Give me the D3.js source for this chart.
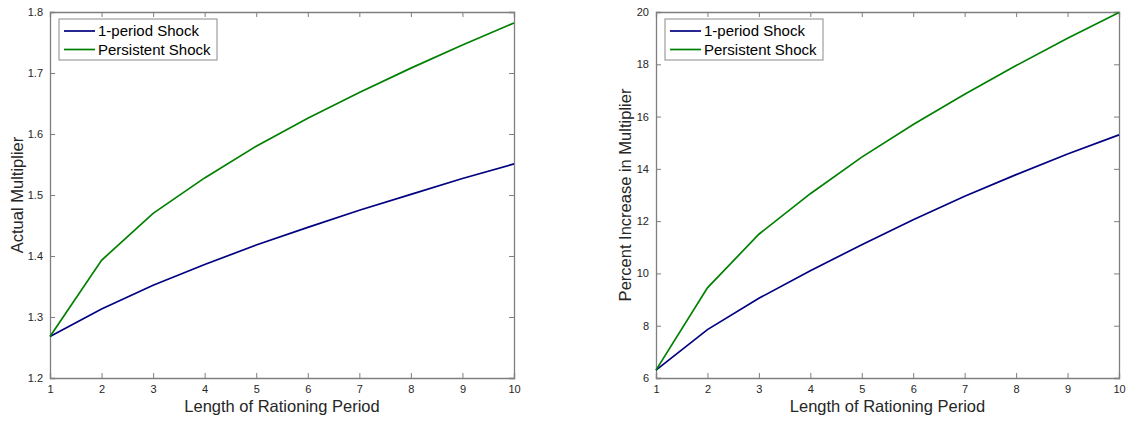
<!DOCTYPE html>
<html><head><meta charset="utf-8">
<script src="https://cdn.jsdelivr.net/npm/d3@7"></script>
<style>body{margin:0;background:#fff;} svg{display:block;font-family:Helvetica,"Liberation Sans",Arial,sans-serif;}</style>
</head><body>
<svg id="c" width="1127" height="421"></svg>
<script>
const periods = [1,2,3,4,5,6,7,8,9,10];
const seriesNames = ["1-period Shock","Persistent Shock"];
const colors = ["#000080","#008000"];
const leftOnePeriod = [1.268,1.313,1.352,1.386,1.418,1.447,1.475,1.501,1.527,1.551];
const leftPersistent = [1.268,1.393,1.470,1.528,1.580,1.626,1.668,1.708,1.746,1.782];
const rightOnePeriod = [6.3,7.85,9.05,10.1,11.1,12.05,12.95,13.78,14.57,15.3];
const rightPersistent = [6.3,9.45,11.5,13.05,14.45,15.7,16.85,17.95,19.0,19.98];
const leftYTicks = [1.2,1.3,1.4,1.5,1.6,1.7,1.8];
const rightYTicks = [6,8,10,12,14,16,18,20];
const xTicks = [1,2,3,4,5,6,7,8,9,10];

const svg = d3.select("#c");
const axisColor = "#7f7f7f", textColor = "#262626";

function panel(x0, x1, y0, y1, yDomain, yTicks, yFmt, series, ylabel, ylabelX) {
  const x = d3.scaleLinear().domain([1,10]).range([x0,x1]);
  const y = d3.scaleLinear().domain(yDomain).range([y1,y0]);
  const g = svg.append("g");
  const tl = 5;
  const ax = g.append("g").attr("transform",`translate(0,${y1})`).call(d3.axisBottom(x).tickValues(xTicks).tickSize(-tl).tickPadding(7).tickFormat(d3.format("d")));
  const axT = g.append("g").attr("transform",`translate(0,${y0})`).call(d3.axisTop(x).tickValues(xTicks).tickSize(-tl).tickFormat(""));
  const ay = g.append("g").attr("transform",`translate(${x0},0)`).call(d3.axisLeft(y).tickValues(yTicks).tickSize(-tl).tickPadding(7).tickFormat(yFmt));
  const ayR = g.append("g").attr("transform",`translate(${x1},0)`).call(d3.axisRight(y).tickValues(yTicks).tickSize(-tl).tickFormat(""));
  [ax,axT,ay,ayR].forEach(a=>{
    a.select(".domain").attr("stroke",axisColor).attr("stroke-width",1.3);
    a.selectAll(".tick line").attr("stroke",axisColor).attr("stroke-width",1);
    a.selectAll("text").attr("fill",textColor).attr("font-size","11px").attr("font-family","Helvetica,'Liberation Sans',Arial,sans-serif");
  });
  const line = d3.line().x((d,i)=>x(periods[i])).y(d=>y(d));
  series.forEach((s,i)=>{
    g.append("path").datum(s).attr("d",line).attr("fill","none").attr("stroke",colors[i]).attr("stroke-width",1.7);
  });
  g.append("text").attr("x",(x0+x1)/2).attr("y",412).attr("text-anchor","middle").attr("font-size","16.5px").attr("fill",textColor).text("Length of Rationing Period");
  g.append("text").attr("transform",`translate(${ylabelX},${(y0+y1)/2}) rotate(-90)`).attr("text-anchor","middle").attr("font-size","16.5px").attr("fill",textColor).text(ylabel);
  const lx = x0+9, ly = y0+7, lw = 158, lh = 41;
  const lg = g.append("g");
  lg.append("rect").attr("x",lx).attr("y",ly).attr("width",lw).attr("height",lh).attr("fill","#fff").attr("stroke","#8a8a8a").attr("stroke-width",1);
  seriesNames.forEach((n,i)=>{
    const yy = ly + 12 + i*18.5;
    lg.append("line").attr("x1",lx+5).attr("x2",lx+36).attr("y1",yy).attr("y2",yy).attr("stroke",colors[i]).attr("stroke-width",1.7);
    lg.append("text").attr("x",lx+39).attr("y",yy+5).attr("font-size","15px").attr("fill","#000").text(n);
  });
}

panel(50, 514, 12, 378, [1.2,1.8], leftYTicks, d3.format(".1f"), [leftOnePeriod,leftPersistent], "Actual Multiplier", 23);
panel(656, 1119, 12, 378, [6,20], rightYTicks, d3.format("d"), [rightOnePeriod,rightPersistent], "Percent Increase in Multiplier", 631);
</script>
</body></html>
